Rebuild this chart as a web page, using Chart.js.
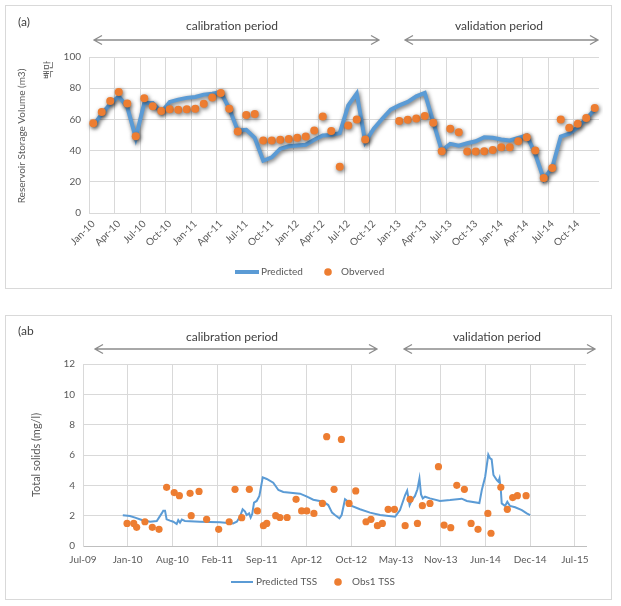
<!DOCTYPE html>
<html>
<head>
<meta charset="utf-8">
<script src="https://cdn.jsdelivr.net/npm/chart.js@4.4.1/dist/chart.umd.min.js"></script>
<style>
  body { margin: 0; background: #fff; }
  .wrap { position: absolute; left: 5px; width: 607px; box-shadow: inset 0 0 0 1px #d9d9d9; }
  #wrapA { top: 5px; height: 284px; }
  #wrapB { top: 315px; height: 285px; }
</style>
</head>
<body>
<div class="wrap" id="wrapA"><canvas id="volChart"></canvas></div>
<div class="wrap" id="wrapB"><canvas id="tssChart"></canvas></div>
<script>
// ---- (a) reservoir storage volume, monthly (million m3)
const months = [
  'Jan-10','Feb-10','Mar-10','Apr-10','May-10','Jun-10','Jul-10','Aug-10','Sep-10','Oct-10','Nov-10','Dec-10',
  'Jan-11','Feb-11','Mar-11','Apr-11','May-11','Jun-11','Jul-11','Aug-11','Sep-11','Oct-11','Nov-11','Dec-11',
  'Jan-12','Feb-12','Mar-12','Apr-12','May-12','Jun-12','Jul-12','Aug-12','Sep-12','Oct-12','Nov-12','Dec-12',
  'Jan-13','Feb-13','Mar-13','Apr-13','May-13','Jun-13','Jul-13','Aug-13','Sep-13','Oct-13','Nov-13','Dec-13',
  'Jan-14','Feb-14','Mar-14','Apr-14','May-14','Jun-14','Jul-14','Aug-14','Sep-14','Oct-14','Nov-14','Dec-14'
];
const predictedVolume = [
  56, 63.5, 70, 74.8, 68, 48.2, 70.5, 70.5, 64.6, 71.2, 72.7, 73.8,
  74.4, 75.9, 76.5, 77.5, 67, 52.9, 53.3, 48.2, 33.5, 35.7, 41.1, 42.8,
  43.2, 43.7, 46.9, 49.7, 50, 51.2, 69, 76.6, 45.4, 54, 60.4, 66.2,
  69, 71.2, 74.8, 77, 58.3, 40, 44.3, 43.2, 44.7, 46, 48.6, 48.2,
  47.1, 46.5, 48.2, 49.7, 37.8, 21.7, 29.2, 49, 50.8, 55, 60.4, 66.2
];
const observedVolume = [
  57.6, 64.7, 71.8, 77.5, 70.2, 49.2, 73.5, 68.4, 65.4, 66.5, 66.2, 66.5,
  66.9, 70.1, 74, 77, 66.9, 52.3, 62.8, 63.4, 46.5, 46.5, 46.9, 47.5,
  48.2, 49, 52.9, 61.9, 52.5, 29.7, 56.1, 60, 47.1, null, null, null,
  58.9, 59.8, 60.6, 62.2, 57.8, 39.6, 54, 51.8, 39.4, 39.4, 39.6, 40.4,
  42.2, 42.2, 46, 48.6, 40, 22.4, 28.8, 60, 54.6, 57.2, 60.9, 67.3
];

// ---- (ab) total suspended solids (mg/l)
const predTssDates = [
  '2009-12-31','2010-02-01','2010-02-24','2010-03-26','2010-05-02','2010-06-01','2010-06-23','2010-06-30',
  '2010-07-08','2010-07-15','2010-07-30','2010-08-14','2010-08-29','2010-09-05','2010-09-13','2010-09-21',
  '2010-10-05','2010-12-11','2011-03-11','2011-05-08','2011-05-25','2011-06-08','2011-06-20','2011-07-01',
  '2011-07-08','2011-07-19','2011-07-26','2011-08-02','2011-08-10','2011-08-22','2011-09-03','2011-09-18',
  '2011-10-06','2011-11-04','2011-11-27','2011-12-19','2012-03-03','2012-04-03','2012-05-01','2012-06-15',
  '2012-07-07','2012-07-24','2012-08-06','2012-08-26','2012-09-05','2012-09-20','2012-10-05','2012-10-20',
  '2012-11-26','2013-01-10','2013-02-24','2013-05-02','2013-05-24','2013-06-16','2013-06-25','2013-07-06',
  '2013-07-16','2013-07-30','2013-08-10','2013-08-19','2013-08-26','2013-09-03','2013-09-13','2013-10-05',
  '2013-11-19','2014-01-03','2014-02-24','2014-03-19','2014-05-14','2014-05-25','2014-06-09','2014-06-23',
  '2014-07-01','2014-07-08','2014-07-16','2014-07-31','2014-08-07','2014-08-12','2014-08-18','2014-08-22',
  '2014-09-06','2014-09-16','2014-09-28','2014-10-21','2014-11-20','2014-12-12','2014-12-27'
];
const predTssValues = [
  2.02, 1.98, 1.87, 1.71, 1.60, 1.65, 2.15, 2.33,
  2.33, 1.76, 1.67, 1.60, 1.45, 1.71, 1.54, 1.74,
  1.65, 1.60, 1.56, 1.49, 1.60, 1.93, 2.42, 2.27,
  2.04, 2.15, 1.87, 2.11, 2.86, 2.97, 3.30, 4.53,
  4.42, 4.17, 3.69, 3.56, 3.45, 3.25, 3.05, 2.92,
  2.70, 2.20, 2.04, 1.82, 2.04, 3.08, 2.92, 2.64,
  2.42, 2.20, 2.04, 1.93, 2.37, 3.36, 3.65, 2.70,
  3.03, 3.30, 3.74, 4.45, 3.40, 3.14, 3.25, 3.14,
  2.97, 3.03, 3.12, 2.97, 2.83, 3.69, 4.57, 6.02,
  5.78, 5.71, 4.68, 4.35, 4.24, 4.46, 3.69, 2.81,
  2.64, 2.92, 2.64, 2.55, 2.37, 2.15, 2.04
];
const obsTssDates = [
  '2010-01-19','2010-02-18','2010-03-03','2010-04-09','2010-05-12','2010-06-11','2010-07-15','2010-08-18',
  '2010-09-10','2010-10-28','2010-11-02','2010-12-07','2011-01-10','2011-03-05','2011-04-21','2011-05-17',
  '2011-06-16','2011-07-20','2011-08-25','2011-09-21','2011-10-06','2011-11-15','2011-12-04','2012-01-05',
  '2012-02-14','2012-03-10','2012-04-02','2012-05-04','2012-06-11','2012-06-30','2012-08-02','2012-09-04',
  '2012-10-08','2012-11-07','2012-12-23','2013-01-14','2013-02-12','2013-03-06','2013-04-01','2013-04-29',
  '2013-06-16','2013-07-08','2013-08-10','2013-09-01','2013-10-05','2013-11-12','2013-12-07','2014-01-06',
  '2014-02-02','2014-03-08','2014-04-07','2014-05-08','2014-06-21','2014-07-05','2014-08-18','2014-09-16',
  '2014-10-10','2014-10-31','2014-12-09'
];
const obsTssValues = [
  1.49, 1.49, 1.23, 1.60, 1.23, 1.10, 3.87, 3.52,
  3.32, 3.47, 2.00, 3.60, 1.76, 1.10, 1.60, 3.74,
  1.87, 3.74, 2.31, 1.34, 1.49, 2.00, 1.88, 1.88,
  3.08, 2.31, 2.31, 2.15, 2.81, 7.21, 3.74, 7.03,
  2.81, 3.63, 1.60, 1.76, 1.34, 1.49, 2.42, 2.42,
  1.34, 3.08, 1.49, 2.66, 2.81, 5.23, 1.38, 1.21,
  4.00, 3.74, 1.49, 1.10, 2.15, 0.84, 3.87, 2.42,
  3.19, 3.32, 3.32
];
// Excel date serials used as x-axis ticks (Jul-09 ... Jul-15, every 200 days)
const tssTickDays = [40000, 40200, 40400, 40600, 40800, 41000, 41200, 41400, 41600, 41800, 42000, 42200];

const BLUE = '#5b9bd5';
const ORANGE = '#ed7d31';
const GRID = '#d9d9d9';
const TEXT = '#595959';
const FONT = 'Lato, "Open Sans", sans-serif';

Chart.defaults.font.family = FONT;
Chart.defaults.font.size = 10;
Chart.defaults.color = TEXT;
Chart.defaults.animation = false;

const EPOCH = Date.UTC(1899, 11, 30);
const MON = ['Jan','Feb','Mar','Apr','May','Jun','Jul','Aug','Sep','Oct','Nov','Dec'];
function toSerial(iso) {
  const [y, m, d] = iso.split('-').map(Number);
  return (Date.UTC(y, m - 1, d) - EPOCH) / 86400000;
}
function serialLabel(s) {
  const d = new Date(EPOCH + s * 86400000);
  return MON[d.getUTCMonth()] + '-' + String(d.getUTCFullYear()).slice(2);
}

// soft gray halo like the Excel shadow effect
const shadowPlugin = {
  id: 'shadow',
  beforeDatasetsDraw(chart) {
    const ctx = chart.ctx;
    ctx.save();
    ctx.shadowColor = 'rgba(0,0,0,0.6)';
    ctx.shadowBlur = 4;
    ctx.shadowOffsetX = 1;
    ctx.shadowOffsetY = 1.5;
  },
  afterDatasetsDraw(chart) {
    chart.ctx.restore();
  }
};

// panel tag, period arrows, axis titles and legend
const decoPlugin = {
  id: 'deco',
  afterDraw(chart, args, o) {
    const ctx = chart.ctx;
    ctx.save();
    ctx.fillStyle = '#404040';
    ctx.textBaseline = 'middle';
    ctx.font = '12px ' + FONT;
    ctx.textAlign = 'left';
    ctx.fillText(o.tag, 13, o.tagY);
    ctx.textAlign = 'center';
    o.periods.forEach(p => {
      ctx.fillStyle = '#404040';
      ctx.fillText(p.text, p.tx, p.ty);
      ctx.strokeStyle = '#8c8c8c';
      ctx.lineWidth = 1.3;
      ctx.beginPath();
      ctx.moveTo(p.x1, p.y); ctx.lineTo(p.x2, p.y);
      ctx.moveTo(p.x1 + 8, p.y - 4.5); ctx.lineTo(p.x1, p.y); ctx.lineTo(p.x1 + 8, p.y + 4.5);
      ctx.moveTo(p.x2 - 8, p.y - 4.5); ctx.lineTo(p.x2, p.y); ctx.lineTo(p.x2 - 8, p.y + 4.5);
      ctx.stroke();
    });
    // y titles
    ctx.fillStyle = TEXT;
    o.yTitles.forEach(t => {
      ctx.save();
      ctx.translate(t.x, t.y);
      ctx.rotate(-Math.PI / 2);
      ctx.font = t.font;
      ctx.fillText(t.text, 0, 0);
      ctx.restore();
    });
    // legend
    const L = o.legend;
    ctx.strokeStyle = BLUE;
    ctx.lineWidth = L.lineWidth;
    ctx.beginPath();
    ctx.moveTo(L.lineX1, L.y); ctx.lineTo(L.lineX2, L.y);
    ctx.stroke();
    ctx.fillStyle = ORANGE;
    ctx.beginPath();
    ctx.arc(L.dotX, L.y, 3.8, 0, Math.PI * 2);
    ctx.fill();
    ctx.fillStyle = TEXT;
    ctx.font = '10px ' + FONT;
    ctx.textAlign = 'left';
    ctx.fillText(L.text1, L.text1X, L.y);
    ctx.fillText(L.text2, L.text2X, L.y);
    ctx.restore();
  }
};

new Chart(document.getElementById('volChart'), {
  type: 'line',
  data: {
    labels: months,
    datasets: [
      {
        label: 'Obverved',
        data: observedVolume,
        showLine: false,
        pointRadius: 4,
        pointBackgroundColor: ORANGE,
        pointBorderWidth: 0,
        order: 0
      },
      {
        label: 'Predicted',
        data: predictedVolume,
        borderColor: BLUE,
        borderWidth: 4,
        pointRadius: 0,
        tension: 0,
        order: 1
      }
    ]
  },
  options: {
    responsive: true,
    maintainAspectRatio: false,
    layout: { padding: { top: 52, right: 13, left: 0, bottom: 0 } },
    plugins: {
      legend: { display: false },
      tooltip: { enabled: false },
      deco: {
        tag: '(a)', tagY: 17,
        periods: [
          { text: 'calibration period', tx: 227, ty: 21, x1: 89, x2: 374, y: 35 },
          { text: 'validation period', tx: 494, ty: 21, x1: 400, x2: 593, y: 35 }
        ],
        yTitles: [
          { text: 'Reservoir Storage Volume (m3)', x: 17, y: 131, font: '10px ' + FONT },
          { text: '백만', x: 43, y: 65, font: '10px "Noto Sans CJK KR"' }
        ],
        legend: { y: 267, lineX1: 230, lineX2: 254, lineWidth: 4, dotX: 323,
                  text1: 'Predicted', text1X: 256, text2: 'Obverved', text2X: 336 }
      }
    },
    scales: {
      x: {
        offset: true,
        grid: {
          offset: true,
          drawTicks: false,
          color: c => (c.index % 3 === 0 ? GRID : 'rgba(0,0,0,0)')
        },
        border: { color: GRID },
        ticks: {
          autoSkip: false,
          minRotation: 45,
          maxRotation: 45,
          padding: 5,
          callback: function (v, i) { return i % 3 === 0 ? this.getLabelForValue(v) : ''; }
        },
        afterFit: s => { s.height = 76; }
      },
      y: {
        min: 0,
        max: 100,
        grid: { color: GRID, drawTicks: false },
        border: { color: GRID },
        ticks: { stepSize: 20, padding: 8 },
        afterFit: s => { s.width = 84; }
      }
    }
  },
  plugins: [shadowPlugin, decoPlugin]
});

new Chart(document.getElementById('tssChart'), {
  type: 'scatter',
  data: {
    datasets: [
      {
        label: 'Obs1 TSS',
        data: obsTssDates.map((d, i) => ({ x: toSerial(d), y: obsTssValues[i] })),
        pointRadius: 3.6,
        pointBackgroundColor: ORANGE,
        pointBorderWidth: 0,
        order: 0
      },
      {
        label: 'Predicted TSS',
        data: predTssDates.map((d, i) => ({ x: toSerial(d), y: predTssValues[i] })),
        showLine: true,
        borderColor: BLUE,
        borderWidth: 2,
        pointRadius: 0,
        order: 1
      }
    ]
  },
  options: {
    responsive: true,
    maintainAspectRatio: false,
    layout: { padding: { top: 49, right: 26, left: 0, bottom: 0 } },
    plugins: {
      legend: { display: false },
      tooltip: { enabled: false },
      deco: {
        tag: '(ab', tagY: 16,
        periods: [
          { text: 'calibration period', tx: 227, ty: 22, x1: 90, x2: 372, y: 34 },
          { text: 'validation period', tx: 492, ty: 22, x1: 399, x2: 590, y: 34 }
        ],
        yTitles: [
          { text: 'Total solids (mg/l)', x: 31, y: 140, font: '11px ' + FONT }
        ],
        legend: { y: 267, lineX1: 226, lineX2: 248, lineWidth: 2, dotX: 333,
                  text1: 'Predicted TSS', text1X: 251, text2: 'Obs1 TSS', text2X: 347 }
      }
    },
    scales: {
      x: {
        type: 'linear',
        min: 40000,
        max: 42250,
        afterBuildTicks: s => { s.ticks = tssTickDays.map(v => ({ value: v })); },
        grid: { color: GRID, drawTicks: false },
        border: { color: '#bfbfbf' },
        ticks: { maxRotation: 0, padding: 8, callback: v => serialLabel(v) },
        afterFit: s => { s.height = 54; }
      },
      y: {
        min: 0,
        max: 12,
        grid: { color: GRID, drawTicks: false },
        border: { color: GRID },
        ticks: { stepSize: 2, padding: 8 },
        afterFit: s => { s.width = 78; }
      }
    }
  },
  plugins: [decoPlugin]
});
</script>
</body>
</html>
